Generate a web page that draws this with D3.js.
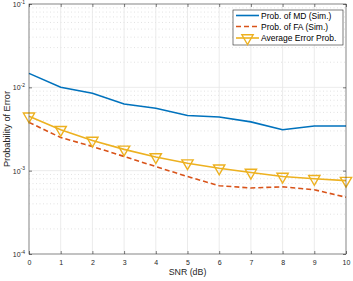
<!DOCTYPE html>
<html>
<head>
<meta charset="utf-8">
<script src="https://cdn.jsdelivr.net/npm/d3@7"></script>
<style>
  body { margin: 0; background: #fff; }
  text { font-family: "Liberation Sans", Arial, sans-serif; }
</style>
</head>
<body>
<div id="chart"></div>
<script>
const snr = [0, 1, 2, 3, 4, 5, 6, 7, 8, 9, 10];
const probMD = [0.0147, 0.0100, 0.0085, 0.0063, 0.0056, 0.0046, 0.0044, 0.00385, 0.0031, 0.00344, 0.00344];
const probFA = [0.0038, 0.0025, 0.00195, 0.00148, 0.00112, 0.00085, 0.00066, 0.00062, 0.00064, 0.00059, 0.00048];
const avgErr = [0.0045, 0.0031, 0.0023, 0.0018, 0.00146, 0.00123, 0.00107, 0.00095, 0.00085, 0.0008, 0.00076];
const yTicks = [1e-4, 1e-3, 1e-2, 1e-1];
const legendLabels = ["Prob. of MD (Sim.)", "Prob. of FA (Sim.)", "Average Error Prob."];

const W = 353, H = 281;
const pL = 29, pR = 346, pT = 4, pB = 254;

const svg = d3.select("#chart").append("svg")
  .attr("width", W).attr("height", H);

const x = d3.scaleLinear().domain([0, 10]).range([pL, pR]);
const y = d3.scaleLog().domain([1e-4, 1e-1]).range([pB, pT]);

// minor grid (dotted)
const minor = [];
for (let e = -4; e < -1; e++) for (let m = 2; m <= 9; m++) minor.push(m * Math.pow(10, e));
svg.append("g").selectAll("line").data(minor).enter().append("line")
  .attr("x1", pL).attr("x2", pR)
  .attr("y1", d => y(d)).attr("y2", d => y(d))
  .attr("stroke", "#d0d0d0").attr("stroke-width", 0.6)
  .attr("stroke-dasharray", "1,2.5");

// major grid
svg.append("g").selectAll("line").data(snr).enter().append("line")
  .attr("x1", d => x(d)).attr("x2", d => x(d))
  .attr("y1", pT).attr("y2", pB)
  .attr("stroke", "#e6e6e6").attr("stroke-width", 0.8);
svg.append("g").selectAll("line").data(yTicks).enter().append("line")
  .attr("x1", pL).attr("x2", pR)
  .attr("y1", d => y(d)).attr("y2", d => y(d))
  .attr("stroke", "#e6e6e6").attr("stroke-width", 0.8);

// series
const line = arr => d3.line().x((d, i) => x(snr[i])).y(d => y(d))(arr);
svg.append("path").attr("d", line(probMD))
  .attr("fill", "none").attr("stroke", "#0072BD").attr("stroke-width", 1.6);
svg.append("path").attr("d", line(probFA))
  .attr("fill", "none").attr("stroke", "#D95319").attr("stroke-width", 1.6)
  .attr("stroke-dasharray", "5,3");
svg.append("path").attr("d", line(avgErr))
  .attr("fill", "none").attr("stroke", "#EDB120").attr("stroke-width", 1.6);

const tri = d3.symbol().type(d3.symbolTriangle).size(55);
svg.append("g").selectAll("path").data(avgErr).enter().append("path")
  .attr("d", tri)
  .attr("transform", (d, i) => `translate(${x(snr[i])},${y(d)}) rotate(180)`)
  .attr("fill", "none").attr("stroke", "#EDB120").attr("stroke-width", 1.4);

// axes box
svg.append("rect").attr("x", pL).attr("y", pT)
  .attr("width", pR - pL).attr("height", pB - pT)
  .attr("fill", "none").attr("stroke", "#262626").attr("stroke-width", 0.7)
  .attr("stroke-opacity", 0.7);

// ticks
const axX = svg.append("g").attr("transform", `translate(0,${pB})`)
  .call(d3.axisBottom(x).tickValues(snr).tickFormat(d3.format("d")).tickSizeInner(-3).tickSizeOuter(0).tickPadding(6));
const axXt = svg.append("g").attr("transform", `translate(0,${pT})`)
  .call(d3.axisTop(x).tickValues(snr).tickFormat("").tickSizeInner(-3).tickSizeOuter(0));
const axY = svg.append("g").attr("transform", `translate(${pL},0)`)
  .call(d3.axisLeft(y).tickValues(yTicks).tickFormat("").tickSizeInner(-3).tickSizeOuter(0));
const axYr = svg.append("g").attr("transform", `translate(${pR},0)`)
  .call(d3.axisRight(y).tickValues(yTicks).tickFormat("").tickSizeInner(-3).tickSizeOuter(0));
[axX, axXt, axY, axYr].forEach(a => {
  a.select(".domain").remove();
  a.selectAll("line").attr("stroke", "#262626").attr("stroke-width", 0.6);
});
axX.selectAll("text").attr("font-size", 7).attr("fill", "#262626")
  .attr("font-family", "Liberation Sans, Arial, sans-serif");

// y tick labels with superscripts
yTicks.forEach(v => {
  const t = svg.append("text").attr("x", pL - 4).attr("y", y(v) + 3)
    .attr("text-anchor", "end").attr("font-size", 7).attr("fill", "#262626");
  t.append("tspan").text("10");
  t.append("tspan").attr("dy", -3.5).attr("font-size", 5).text(Math.round(Math.log10(v)));
});

// axis labels
svg.append("text").attr("x", (pL + pR) / 2).attr("y", 275)
  .attr("text-anchor", "middle").attr("font-size", 8.8).attr("fill", "#262626")
  .text("SNR (dB)");
svg.append("text")
  .attr("transform", `translate(10,${(pT + pB) / 2}) rotate(-90)`)
  .attr("text-anchor", "middle").attr("font-size", 9.2).attr("fill", "#262626")
  .text("Probability of Error");

// legend
const lg = svg.append("g");
lg.append("rect").attr("x", 233).attr("y", 10).attr("width", 110).attr("height", 35)
  .attr("fill", "#fff").attr("stroke", "#262626").attr("stroke-width", 0.6);
const lgRows = [15.5, 26.5, 38];
const lgStroke = ["#0072BD", "#D95319", "#EDB120"];
legendLabels.forEach((name, i) => {
  lg.append("line").attr("x1", 236).attr("x2", 259)
    .attr("y1", lgRows[i]).attr("y2", lgRows[i])
    .attr("stroke", lgStroke[i]).attr("stroke-width", 1.6)
    .attr("stroke-dasharray", i === 1 ? "5,3" : null);
  lg.append("text").attr("x", 261).attr("y", lgRows[i] + 3)
    .attr("font-size", 8.5).attr("fill", "#000").text(name);
});
lg.append("path").attr("d", tri)
  .attr("transform", `translate(247.5,${lgRows[2]}) rotate(180)`)
  .attr("fill", "none").attr("stroke", "#EDB120").attr("stroke-width", 1.4);
</script>
</body>
</html>
